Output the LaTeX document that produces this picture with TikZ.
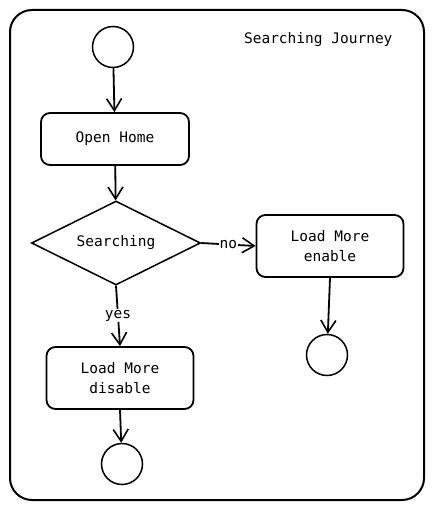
\documentclass[tikz,border=0pt]{standalone}
\usepackage{fontspec}
\setmonofont{DejaVu Sans Mono}
\usetikzlibrary{shapes.geometric,arrows.meta}
\begin{document}
\begin{tikzpicture}[x=1pt,y=-1pt,
  every node/.style={font=\ttfamily\fontsize{14.5}{20}\selectfont},
  frame/.style={draw,line width=2pt,rounded corners=22pt},
  actbox/.style={draw,line width=1.8pt,rounded corners=9pt,minimum width=147pt,minimum height=62pt,align=center,inner sep=0pt},
  endcirc/.style={draw,line width=1.5pt,circle,minimum size=41pt,inner sep=0pt},
  decide/.style={draw,line width=1.5pt,diamond,minimum width=169pt,minimum height=84pt,inner sep=0pt,aspect=2},
  flow/.style={line width=1.8pt,-{Straight Barb[length=12pt,width=15pt,line width=1.6pt]}},
  lbl/.style={fill=white,inner sep=1pt}]
\useasboundingbox (0,0) rectangle (433,510);
\fill[white] (0,0) rectangle (433,510);
\draw[frame] (10,10) rectangle (424,500);
\node[anchor=east] (title) at (396,40) {Searching Journey};
\node[endcirc] (start) at (113,47) {};
\node[actbox,minimum width=148pt,minimum height=52pt] (home) at (115,139) {Open Home};
\node[decide] (search) at (116,243) {Searching};
\node[actbox] (enable) at (330,246) {Load More\\enable};
\node[endcirc] (endA) at (327,355) {};
\node[actbox] (disable) at (120,378) {Load More\\disable};
\node[endcirc] (endB) at (122,464) {};
\draw[flow] (start) -- (home);
\draw[flow] (home) -- (search);
\draw[flow] (search.east) -- node[lbl] {no} (enable.west);
\draw[flow] (search.south) -- node[lbl,pos=0.5] {yes} (disable.north);
\draw[flow] (enable.south) -- (endA);
\draw[flow] (disable.south) -- (endB);
\end{tikzpicture}
\end{document}
